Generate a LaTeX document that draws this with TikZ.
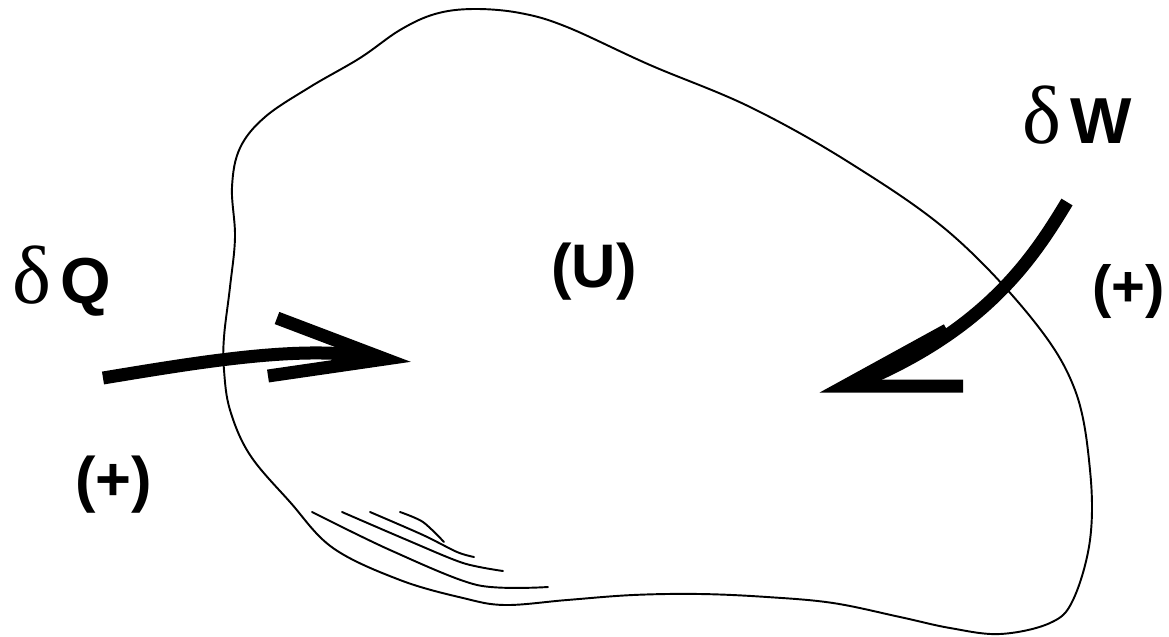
\documentclass[tikz,border=0pt]{standalone}
\usepackage{fontspec}
\setmainfont{Liberation Sans}[BoldFont={Liberation Sans Bold}]
\newfontfamily\greekfont{Liberation Serif}
\usetikzlibrary{positioning}
\tikzset{
	outline/.style={draw=black, line width=1.1pt},
	hatch/.style={draw=black, line width=1.1pt, line cap=round},
	fatline/.style={draw=black, line width=7.4pt, line join=miter, miter limit=10},
	flux/.style={anchor=base west, inner sep=0pt, font=\fontsize{37}{42}\selectfont\bfseries},
	sign/.style={anchor=base west, inner sep=0pt, font=\fontsize{35}{40}\selectfont\bfseries},
}
\newcommand{\dlt}{{\fontsize{47}{50}\selectfont\greekfont\mdseries δ}\hspace{5pt}}

\begin{document}
\begin{tikzpicture}[x=0.02cm, y=-0.02cm]
		\useasboundingbox (0,0) rectangle (1169,636);
		\draw[outline] plot[smooth cycle, tension=0.6] coordinates {
			(473,9) (520,13) (567,27) (650,65) (750,107) (850,163) (950,233) (1033,320)
			(1075,390) (1090,470) (1090,540) (1073,600) (1050,623) (1000,634)
			(950,628) (900,617) (833,603) (767,597) (700,594) (633,595) (567,600)
			(505,605) (463,598) (400,580) (333,548) (290,502) (250,455) (230,410)
			(224,370) (224,337) (230,287) (235,237) (232,187) (240,148) (265,117)
			(310,87) (360,58) (400,30) (435,14)};
		\draw[hatch] plot[smooth] coordinates {(312,512) (390,550) (477,585) (548,587)};
		\draw[hatch] plot[smooth] coordinates {(342,512) (407,540) (463,563) (503,571)};
		\draw[hatch] plot[smooth] coordinates {(370,512) (423,535) (457,552) (474,557)};
		\draw[hatch] plot[smooth] coordinates {(400,512) (423,522) (444,542)};
		\node[flux] (dQ) at (12,303) {\dlt Q};
		\node[flux] (dW) at (1022,143) {\dlt W};
		\node[sign] (U) at (551,287) {(U)};
		\node[sign] (qsign) at (75,500) {(+)};
		\node[sign, font=\fontsize{33}{40}\selectfont\bfseries] (wsign) at (1092,306) {(+)};
		\coordinate (qtail) at (103,378);
		\coordinate (qtip) at (385,359);
		\coordinate (wtail) at (1067,202);
		\coordinate (wtip) at (845,386);
		\draw[fatline] (qtail) .. controls (200,362) and (300,345) .. (370,357);
		\draw[fatline] (277,318) -- (qtip) -- (268,376);
		\draw[fatline] (wtail) .. controls (1035,255) and (990,325) .. (870,378);
		\draw[fatline] (947,330) -- (wtip) -- (963,386);
	\end{tikzpicture}
\end{document}
